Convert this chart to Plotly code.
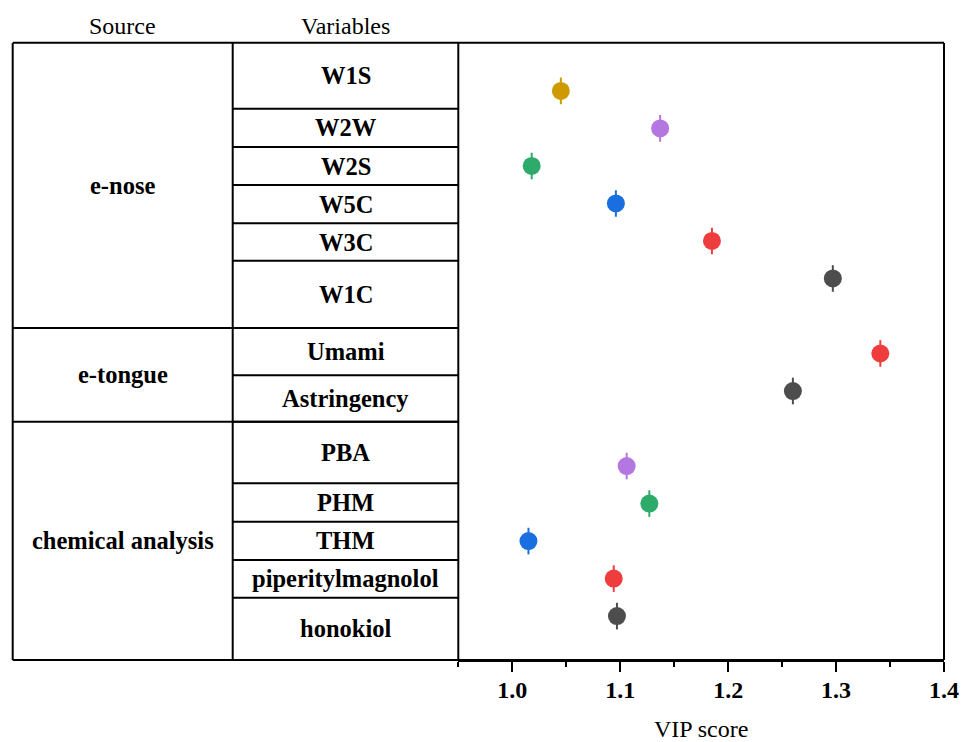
import plotly.graph_objects as go

# ---- data ----
sources = ["e-nose", "e-tongue", "chemical analysis"]
variables = ["W1S", "W2W", "W2S", "W5C", "W3C", "W1C",
             "Umami", "Astringency",
             "PBA", "PHM", "THM", "piperitylmagnolol", "honokiol"]
vip = [1.045, 1.137, 1.018, 1.096, 1.185, 1.297,
       1.341, 1.260,
       1.106, 1.127, 1.015, 1.094, 1.097]
ypos = [0, 1, 2, 3, 4, 5, 7, 8, 10, 11, 12, 13, 14]
colors = ["#CF9A00", "#B476E0", "#2EAB6A", "#1A6FE0", "#EF3D3D", "#4D4D4D",
          "#EF3D3D", "#4D4D4D",
          "#B476E0", "#2EAB6A", "#1A6FE0", "#EF3D3D", "#4D4D4D"]
x_ticks = [1.0, 1.1, 1.2, 1.3, 1.4]

# ---- layout helpers (pixel geometry of the table) ----
W, H = 961, 742
ML, MR, MT, MB = 12, 17, 43, 82
PW = W - ML - MR
PH = H - MT - MB


def px(x):
    return (x - ML) / PW


def py(y):
    return (H - MB - y) / PH


SERIF = "Liberation Serif, Times New Roman, serif"
col_x = [12.7, 232.7, 458.3, 944]
var_bounds = [42.7, 108.7, 147, 185, 223.3, 260.7, 328, 375.3, 421.7,
              483.3, 521.7, 560, 597.7, 660]
src_bounds = [42.7, 328, 421.7, 660]

fig = go.Figure()
fig.add_trace(go.Scatter(
    x=vip, y=ypos, mode="markers", hoverinfo="skip",
    marker=dict(symbol="line-ns-open", size=19, color=colors,
                line=dict(color=colors, width=2)),
    showlegend=False))
fig.add_trace(go.Scatter(
    x=vip, y=ypos, mode="markers", text=variables,
    marker=dict(symbol="circle", size=18, color=colors, line=dict(width=0)),
    showlegend=False))

shapes = []
lw = dict(color="black", width=2)
# outer top / bottom lines
for yb in (src_bounds[0], src_bounds[-1]):
    shapes.append(dict(type="line", xref="paper", yref="paper",
                       x0=px(col_x[0]), x1=1, y0=py(yb), y1=py(yb), line=lw))
# vertical lines
for xc in col_x:
    shapes.append(dict(type="line", xref="paper", yref="paper",
                       x0=px(xc), x1=px(xc), y0=0, y1=1, line=lw))
# variable row lines
for yb in var_bounds[1:-1]:
    shapes.append(dict(type="line", xref="paper", yref="paper",
                       x0=px(col_x[1]), x1=px(col_x[2]), y0=py(yb), y1=py(yb), line=lw))
# source group lines
for yb in src_bounds[1:-1]:
    shapes.append(dict(type="line", xref="paper", yref="paper",
                       x0=px(col_x[0]), x1=px(col_x[2]), y0=py(yb), y1=py(yb), line=lw))

annotations = []
bold = dict(family=SERIF, size=24.5, color="black", weight="bold")
for i, v in enumerate(variables):
    yc = (var_bounds[i] + var_bounds[i + 1]) / 2
    annotations.append(dict(text=v, xref="paper", yref="paper",
                            x=px((col_x[1] + col_x[2]) / 2), y=py(yc),
                            showarrow=False, font=bold,
                            xanchor="center", yanchor="middle"))
for i, s in enumerate(sources):
    yc = (src_bounds[i] + src_bounds[i + 1]) / 2
    annotations.append(dict(text=s, xref="paper", yref="paper",
                            x=px((col_x[0] + col_x[1]) / 2), y=py(yc),
                            showarrow=False, font=bold,
                            xanchor="center", yanchor="middle"))
reg = dict(family=SERIF, size=24, color="black")
annotations.append(dict(text="Source", xref="paper", yref="paper",
                        x=px(122.3), y=py(26), showarrow=False, font=reg,
                        xanchor="center", yanchor="middle"))
annotations.append(dict(text="Variables", xref="paper", yref="paper",
                        x=px(345.3), y=py(26), showarrow=False, font=reg,
                        xanchor="center", yanchor="middle"))

fig.update_layout(
    width=W, height=H,
    margin=dict(l=ML, r=MR, t=MT, b=MB, autoexpand=False),
    paper_bgcolor="white", plot_bgcolor="white",
    shapes=shapes, annotations=annotations,
    xaxis=dict(domain=[px(col_x[2]), 1], range=[0.95, 1.4], automargin=False,
               tickvals=x_ticks, ticktext=[f"{t:.1f}" for t in x_ticks],
               ticks="outside", ticklen=10, tickwidth=2, tickcolor="black",
               ticklabelstandoff=-3,
               minor=dict(dtick=0.05, tick0=0.95, ticks="outside", ticklen=5,
                          tickwidth=2, tickcolor="black", showgrid=False),
               showgrid=False, zeroline=False, showline=True,
               linecolor="black", linewidth=2,
               tickfont=dict(family=SERIF, size=24, color="black", weight="bold"),
               title=dict(text="VIP score", standoff=21,
                          font=dict(family=SERIF, size=24, color="black"))),
    yaxis=dict(range=[15.17, -1.277], visible=False, showgrid=False,
               zeroline=False, automargin=False),
)

fig.write_html("out.html", config={"displayModeBar": False},
               post_script="document.body.style.margin='0';"
                           "document.body.style.overflow='hidden';")
